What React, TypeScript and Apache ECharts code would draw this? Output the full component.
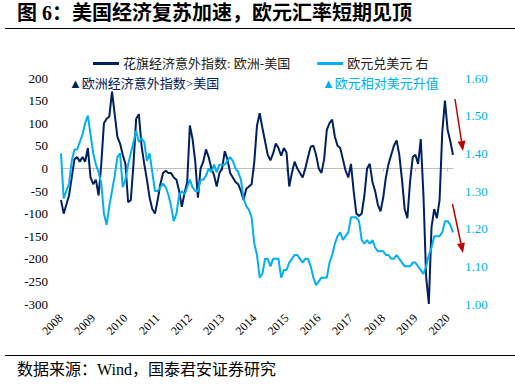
import React, { useEffect, useRef } from "react";
import * as echarts from "echarts";

// monthly categories, axis labelled 2008 .. 2020
const startYear = 2008;
const monthCount = 147;
const categories: string[] = [];
for (let i = 0; i < monthCount; i++) {
  const y = startYear + Math.floor(i / 12);
  const m = (i % 12) + 1;
  categories.push(`${y}-${m < 10 ? "0" + m : m}`);
}

// 花旗经济意外指数: 欧洲-美国 (left axis), monthly readings
const citiSurpriseDiff: number[] = [
  -70, -100, -80, -60, -20, 20, 25, 15, 25, 15, 45, -20,
  -35, -25, -60, 10, 100, 110, 115, 170, 120, 70, 55, 30,
  10, -75, -70, 10, 110, 120, 50, 10, -25, -65, -90, -100,
  -70, -35, -10, -5, -10, -10, -20, -25, -50, -85, -55, -30,
  95, 65, 15, -65, 0, 15, 42, 25, 0, -15, -40, -10,
  0, 38, 20, -10, -20, -30, -35, -50, -70, -45, -40, -35,
  15, 95, 122, 90, 60, 30, 18, 33, 55, 45, 28, 45,
  35, -40, -10, 15, 0, -10, -20, 0, 25, 48, 50, 30,
  0, -10, 20, 85, 100, 108, 70, 50, 45, 20, -5, -20,
  10, -50, -100, -105, -100, -60, 0, 10, -30, -50, -80, -95,
  -65, -20, 10, 30, 50, 62, 30, -25, -90, -110, -30, 25,
  30, 10, 65, -60, -240, -300, -130, -90, -110, -70, 80, 150,
  85, 60, 30,
];

// 欧元兑美元 (right axis), monthly readings
const eurUsd: number[] = [
  1.40, 1.28, 1.30, 1.32, 1.38, 1.41, 1.41, 1.43, 1.45, 1.48, 1.50, 1.45,
  1.40, 1.37, 1.35, 1.32, 1.24, 1.21, 1.26, 1.30, 1.34, 1.39, 1.40, 1.31,
  1.33, 1.37, 1.40, 1.43, 1.46, 1.43, 1.44, 1.43, 1.38, 1.40, 1.35, 1.30,
  1.30, 1.31, 1.32, 1.31, 1.29, 1.26, 1.22, 1.24, 1.29, 1.30, 1.29, 1.31,
  1.33, 1.31, 1.30, 1.30, 1.33, 1.33, 1.34, 1.36, 1.35, 1.37, 1.35, 1.37,
  1.37, 1.37, 1.38, 1.39, 1.38, 1.36, 1.35, 1.33, 1.28, 1.26, 1.25, 1.23,
  1.16, 1.13, 1.07, 1.08, 1.12, 1.12, 1.10, 1.12, 1.12, 1.12, 1.07, 1.09,
  1.09, 1.11, 1.12, 1.13, 1.13, 1.12, 1.11, 1.12, 1.12, 1.10, 1.07, 1.05,
  1.06, 1.07, 1.07, 1.07, 1.11, 1.13, 1.16, 1.18, 1.19, 1.17, 1.18, 1.19,
  1.23, 1.23, 1.23, 1.22, 1.17, 1.16, 1.17, 1.16, 1.17, 1.15, 1.14, 1.14,
  1.14, 1.13, 1.13, 1.12, 1.12, 1.13, 1.12, 1.11, 1.10, 1.10, 1.10, 1.11,
  1.11, 1.10, 1.09, 1.08, 1.10, 1.13, 1.15, 1.18, 1.18, 1.18, 1.19, 1.22,
  1.22, 1.21, 1.19,
];

const seriesNames = ["花旗经济意外指数: 欧洲-美国", "欧元兑美元 右"];
const titleText = "图 6：美国经济复苏加速，欧元汇率短期见顶";
const sourceText = "数据来源：Wind，国泰君安证券研究";
const noteLeft = "▲欧洲经济意外指数>美国";
const noteRight = "▲欧元相对美元升值";

const NAVY = "#002060";
const SKY = "#00B0F0";
const RED = "#C00000";
const FONT = "'Liberation Serif', 'Noto Sans CJK SC', serif";

function arrow(x1: number, y1: number, x2: number, y2: number) {
  const dx = x2 - x1;
  const dy = y2 - y1;
  const len = Math.sqrt(dx * dx + dy * dy);
  const ux = dx / len;
  const uy = dy / len;
  const hl = 10;
  const hw = 4;
  const bx = x2 - ux * hl;
  const by = y2 - uy * hl;
  return [
    {
      type: "line",
      shape: { x1, y1, x2: bx, y2: by },
      style: { stroke: RED, lineWidth: 1.5 },
    },
    {
      type: "polygon",
      shape: {
        points: [
          [x2, y2],
          [bx - uy * hw, by + ux * hw],
          [bx + uy * hw, by - ux * hw],
        ],
      },
      style: { fill: RED },
    },
  ];
}

export default function App() {
  const ref = useRef<HTMLDivElement>(null);
  useEffect(() => {
    if (!ref.current) return;
    const chart = echarts.init(ref.current, null, { renderer: "svg" });
    const yearTick = (i: number) => i % 12 === 0;
    chart.setOption({
      animation: false,
      backgroundColor: "#fff",
      grid: { left: 61, right: 62, top: 78, bottom: 84, outerBoundsMode: "none" },
      legend: {
        left: 88,
        top: 52,
        icon: "rect",
        itemWidth: 26,
        itemHeight: 3,
        itemGap: 27,
        textStyle: { fontSize: 13, color: "#222", fontFamily: FONT, padding: [0, 0, 0, -1] },
        data: seriesNames,
      },
      xAxis: [
        {
          type: "category",
          data: categories,
          boundaryGap: false,
          axisLine: { show: false, onZero: false },
          axisTick: { show: false },
          splitLine: { show: false },
          axisLabel: {
            interval: (i: number) => yearTick(i),
            formatter: (v: string) => v.slice(0, 4),
            rotate: 45,
            margin: 12,
            fontSize: 12,
            color: "#000",
            fontFamily: FONT,
          },
        },
        {
          type: "category",
          data: categories,
          boundaryGap: false,
          position: "bottom",
          axisLine: {
            show: true,
            onZero: true,
            onZeroAxisIndex: 0,
            lineStyle: { color: "#BFBFBF", width: 1 },
          },
          axisTick: {
            show: true,
            interval: (i: number) => yearTick(i),
            length: 3,
            lineStyle: { color: "#BFBFBF" },
          },
          axisLabel: { show: false },
          splitLine: { show: false },
        },
      ],
      yAxis: [
        {
          type: "value",
          min: -300,
          max: 200,
          interval: 50,
          axisLine: { show: false },
          axisTick: { show: false },
          splitLine: { show: false },
          axisLabel: { color: "#000", fontSize: 13, fontFamily: FONT, margin: 13 },
        },
        {
          type: "value",
          min: 1.0,
          max: 1.6,
          interval: 0.1,
          position: "right",
          axisLine: { show: false },
          axisTick: { show: false },
          splitLine: { show: false },
          axisLabel: {
            color: SKY,
            fontSize: 13,
            fontFamily: FONT,
            margin: 12,
            formatter: (v: number) => v.toFixed(2),
          },
        },
      ],
      series: [
        {
          name: seriesNames[0],
          type: "line",
          xAxisIndex: 0,
          yAxisIndex: 0,
          data: citiSurpriseDiff,
          showSymbol: false,
          lineStyle: { color: NAVY, width: 2 },
          itemStyle: { color: NAVY },
          z: 2,
        },
        {
          name: seriesNames[1],
          type: "line",
          xAxisIndex: 0,
          yAxisIndex: 1,
          data: eurUsd,
          showSymbol: false,
          lineStyle: { color: SKY, width: 2 },
          itemStyle: { color: SKY },
          z: 3,
        },
      ],
      graphic: [
        {
          type: "text",
          left: 17,
          top: 3,
          style: {
            text: titleText,
            font: `bold 20px ${FONT}`,
            fill: "#000",
          },
        },
        {
          type: "line",
          shape: { x1: 5, y1: 28.5, x2: 515, y2: 28.5 },
          style: { stroke: "#000", lineWidth: 1 },
        },
        {
          type: "text",
          x: 69,
          y: 83,
          style: {
            text: noteLeft,
            font: `13px ${FONT}`,
            fill: NAVY,
            verticalAlign: "middle",
          },
        },
        {
          type: "text",
          x: 322,
          y: 83,
          style: {
            text: noteRight,
            font: `13px ${FONT}`,
            fill: SKY,
            verticalAlign: "middle",
          },
        },
        ...arrow(455, 99, 463, 151),
        ...arrow(452.5, 204, 463, 253),
        {
          type: "line",
          shape: { x1: 5, y1: 355.5, x2: 515, y2: 355.5 },
          style: { stroke: "#000", lineWidth: 1 },
        },
        {
          type: "text",
          left: 17,
          top: 361,
          style: {
            text: sourceText,
            font: `16px ${FONT}`,
            fill: "#000",
          },
        },
      ],
    });
    return () => chart.dispose();
  }, []);
  return (
    <div
      ref={ref}
      style={{ position: "absolute", left: 0, top: 0, width: 515, height: 388 }}
    />
  );
}
